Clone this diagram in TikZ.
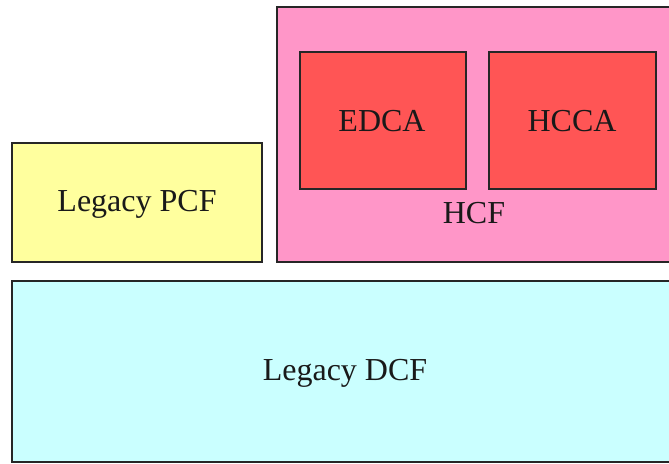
\documentclass[tikz,border=0pt]{standalone}
\usepackage{fontspec}
\setmainfont{Liberation Serif}
\definecolor{pcfyellow}{HTML}{FFFF9E}
\definecolor{hcfpink}{HTML}{FF96C8}
\definecolor{accred}{HTML}{FF5555}
\definecolor{dcfcyan}{HTML}{CAFFFF}
\begin{document}
\begin{tikzpicture}[x=1pt,y=-1pt,
  block/.style={draw=black!85, line width=1.3pt},
  lbl/.style={font=\fontsize{32}{35}\selectfont, text=black!90, inner sep=0pt}]
\useasboundingbox (0,0) rectangle (669,463);
% outer frames
\draw[block, fill=pcfyellow] (12,143) rectangle (262,262);
\node[lbl] (pcf) at (137,204) {Legacy PCF};
\draw[block, fill=hcfpink] (277,7) rectangle (675,262);
\node[lbl] (hcf) at (474,213) {HCF};
\draw[block, fill=accred] (300,52) rectangle (466,189);
\node[lbl] (edca) at (382,121) {EDCA};
\draw[block, fill=accred] (489,52) rectangle (656,189);
\node[lbl] (hcca) at (572,121) {HCCA};
\draw[block, fill=dcfcyan] (12,281) rectangle (675,462);
\node[lbl] (dcf) at (345,373) {Legacy DCF};
\end{tikzpicture}
\end{document}
